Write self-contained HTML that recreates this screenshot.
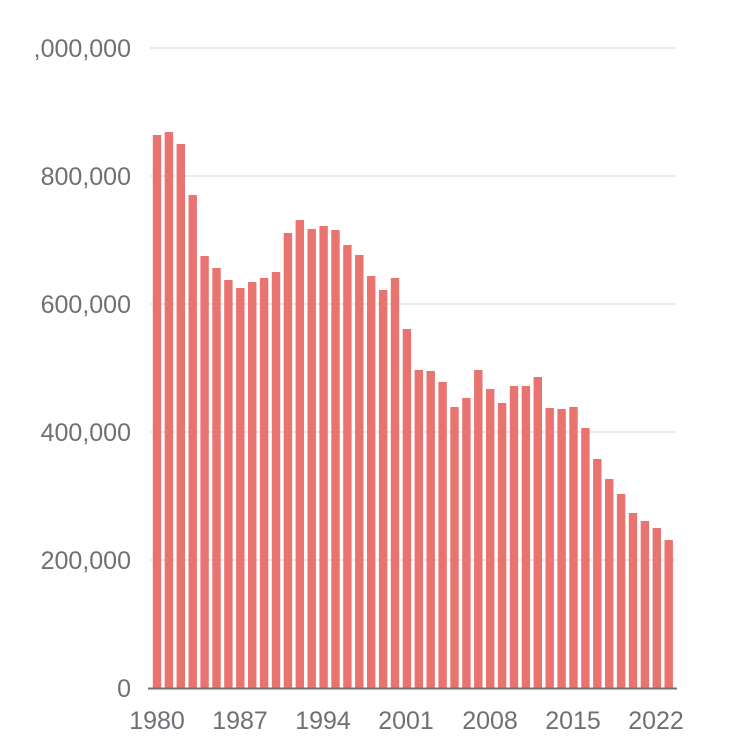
<!DOCTYPE html>
<html><head><style>body{margin:0;background:#fff}svg{display:block}</style></head><body>
<svg width="743" height="740" xmlns="http://www.w3.org/2000/svg" font-family="Liberation Sans, sans-serif">
<g stroke="#e3e3ee" stroke-width="1.5">
<line x1="150" x2="676" y1="48" y2="48"/><line x1="150" x2="676" y1="176" y2="176"/><line x1="150" x2="676" y1="304" y2="304"/><line x1="150" x2="676" y1="432" y2="432"/><line x1="150" x2="676" y1="560" y2="560"/>
</g>
<g fill="#6f6f78" font-size="25" text-anchor="end">
<text x="131" y="57">,000,000</text><text x="131" y="185">800,000</text><text x="131" y="313">600,000</text><text x="131" y="441">400,000</text><text x="131" y="569">200,000</text><text x="131" y="697">0</text>
</g>
<g fill="#e8736f">
<rect x="152.8" y="135" width="8.4" height="553"/>
<rect x="164.7" y="132" width="8.4" height="556"/>
<rect x="176.6" y="144" width="8.4" height="544"/>
<rect x="188.5" y="195" width="8.4" height="493"/>
<rect x="200.4" y="256" width="8.4" height="432"/>
<rect x="212.3" y="268" width="8.4" height="420"/>
<rect x="224.2" y="280" width="8.4" height="408"/>
<rect x="236.1" y="288" width="8.4" height="400"/>
<rect x="248.0" y="282" width="8.4" height="406"/>
<rect x="259.9" y="278" width="8.4" height="410"/>
<rect x="271.8" y="272" width="8.4" height="416"/>
<rect x="283.7" y="233" width="8.4" height="455"/>
<rect x="295.6" y="220" width="8.4" height="468"/>
<rect x="307.5" y="229" width="8.4" height="459"/>
<rect x="319.4" y="226" width="8.4" height="462"/>
<rect x="331.3" y="230" width="8.4" height="458"/>
<rect x="343.2" y="245" width="8.4" height="443"/>
<rect x="355.1" y="255" width="8.4" height="433"/>
<rect x="367.0" y="276" width="8.4" height="412"/>
<rect x="378.9" y="290" width="8.4" height="398"/>
<rect x="390.8" y="278" width="8.4" height="410"/>
<rect x="402.7" y="329" width="8.4" height="359"/>
<rect x="414.6" y="370" width="8.4" height="318"/>
<rect x="426.5" y="371" width="8.4" height="317"/>
<rect x="438.4" y="382" width="8.4" height="306"/>
<rect x="450.3" y="407" width="8.4" height="281"/>
<rect x="462.2" y="398" width="8.4" height="290"/>
<rect x="474.1" y="370" width="8.4" height="318"/>
<rect x="486.0" y="389" width="8.4" height="299"/>
<rect x="497.9" y="403" width="8.4" height="285"/>
<rect x="509.8" y="386" width="8.4" height="302"/>
<rect x="521.7" y="386" width="8.4" height="302"/>
<rect x="533.6" y="377" width="8.4" height="311"/>
<rect x="545.5" y="408" width="8.4" height="280"/>
<rect x="557.4" y="409" width="8.4" height="279"/>
<rect x="569.3" y="407" width="8.4" height="281"/>
<rect x="581.2" y="428" width="8.4" height="260"/>
<rect x="593.1" y="459" width="8.4" height="229"/>
<rect x="605.0" y="479" width="8.4" height="209"/>
<rect x="616.9" y="494" width="8.4" height="194"/>
<rect x="628.8" y="513" width="8.4" height="175"/>
<rect x="640.7" y="521" width="8.4" height="167"/>
<rect x="652.6" y="528" width="8.4" height="160"/>
<rect x="664.5" y="540" width="8.4" height="148"/>
</g>
<line x1="148" x2="677" y1="688.5" y2="688.5" stroke="#707078" stroke-width="2"/>
<g fill="#6f6f78" font-size="25" text-anchor="middle">
<text x="157" y="729">1980</text><text x="240" y="729">1987</text><text x="323" y="729">1994</text><text x="406" y="729">2001</text><text x="490" y="729">2008</text><text x="573" y="729">2015</text><text x="656" y="729">2022</text>
</g>
</svg>
</body></html>
